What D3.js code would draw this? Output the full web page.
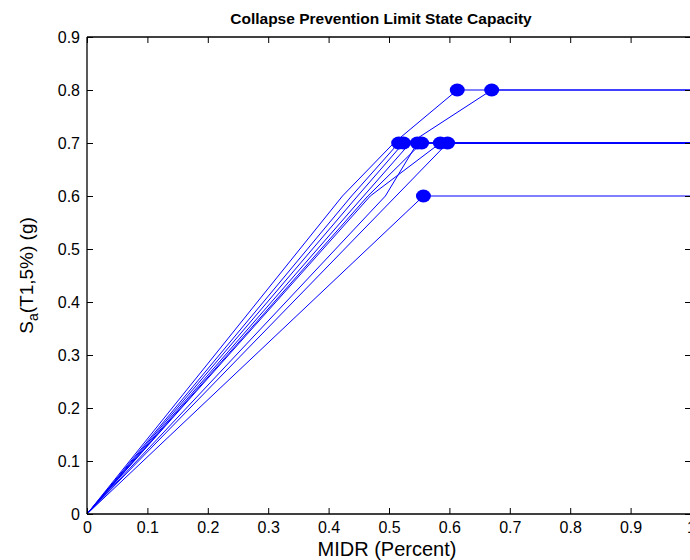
<!DOCTYPE html>
<html>
<head>
<meta charset="utf-8">
<script src="https://cdn.jsdelivr.net/npm/d3@7"></script>
<style>
  html, body { margin: 0; padding: 0; background: #fff; }
  svg { display: block; font-family: Arial, "Liberation Sans", sans-serif; }
</style>
</head>
<body>
<svg id="chart" width="690" height="560"></svg>
<script>
// ---- Data ----
const chartTitle = "Collapse Prevention Limit State Capacity";
const xLabel = "MIDR (Percent)";
const xTicks = [0, 0.1, 0.2, 0.3, 0.4, 0.5, 0.6, 0.7, 0.8, 0.9, 1];
const yTicks = [0, 0.1, 0.2, 0.3, 0.4, 0.5, 0.6, 0.7, 0.8, 0.9];

// IDA curves: MIDR (x) and Sa (y) per record, last point = collapse capacity
const curve1MIDR = [0, 0.423, 0.508, 0.613];
const curve1Sa   = [0, 0.6, 0.7, 0.8];
const curve2MIDR = [0, 0.458, 0.535, 0.670];
const curve2Sa   = [0, 0.6, 0.7, 0.8];
const curve3MIDR = [0, 0.438, 0.516];
const curve3Sa   = [0, 0.6, 0.7];
const curve4MIDR = [0, 0.448, 0.524];
const curve4Sa   = [0, 0.6, 0.7];
const curve5MIDR = [0, 0.494, 0.547];
const curve5Sa   = [0, 0.6, 0.7];
const curve6MIDR = [0, 0.465, 0.554];
const curve6Sa   = [0, 0.6, 0.7];
const curve7MIDR = [0, 0.469, 0.585];
const curve7Sa   = [0, 0.6, 0.7];
const curve8MIDR = [0, 0.597];
const curve8Sa   = [0, 0.7];
const curve9MIDR = [0, 0.557];
const curve9Sa   = [0, 0.6];
const flatEndMIDR = 1.0; // capacity line continues flat to the right edge

const curves = [
  [curve1MIDR, curve1Sa], [curve2MIDR, curve2Sa], [curve3MIDR, curve3Sa],
  [curve4MIDR, curve4Sa], [curve5MIDR, curve5Sa], [curve6MIDR, curve6Sa],
  [curve7MIDR, curve7Sa], [curve8MIDR, curve8Sa], [curve9MIDR, curve9Sa]
].map(([xs, ys]) => xs.map((v, i) => ({x: v, y: ys[i]})));

// ---- Layout ----
const svg = d3.select("#chart");
const mLeft = 87, mRight = 691, mTop = 37, mBottom = 514;
const x = d3.scaleLinear().domain([0, 1]).range([mLeft, mRight]);
const y = d3.scaleLinear().domain([0, 0.9]).range([mBottom, mTop]);
const blue = "#0000ff";

const plot = svg.append("g");

// Lines
const line = d3.line().x(d => x(d.x)).y(d => y(d.y));
curves.forEach(c => {
  const last = c[c.length - 1];
  const pts = c.concat([{x: flatEndMIDR, y: last.y}]);
  plot.append("path")
    .attr("d", line(pts))
    .attr("fill", "none")
    .attr("stroke", blue)
    .attr("stroke-width", 1);
});

// Collapse markers
curves.forEach(c => {
  const last = c[c.length - 1];
  plot.append("ellipse")
    .attr("cx", x(last.x)).attr("cy", y(last.y))
    .attr("rx", 7.5).attr("ry", 6.5)
    .attr("fill", blue);
});

// Axes
const axisColor = "#000";
const tickLen = 6;
const fmt = d => d === 0 ? "0" : (d === 1 ? "1" : d3.format(".1f")(d));

const xAxisB = svg.append("g").attr("transform", `translate(0,${mBottom})`)
  .call(d3.axisBottom(x).tickValues(xTicks).tickSize(-tickLen).tickPadding(8).tickFormat(fmt));
const xAxisT = svg.append("g").attr("transform", `translate(0,${mTop})`)
  .call(d3.axisTop(x).tickValues(xTicks).tickSize(-tickLen).tickFormat(""));
const yAxisL = svg.append("g").attr("transform", `translate(${mLeft},0)`)
  .call(d3.axisLeft(y).tickValues(yTicks).tickSize(-tickLen).tickPadding(7).tickFormat(fmt));
const yAxisR = svg.append("g").attr("transform", `translate(${mRight},0)`)
  .call(d3.axisRight(y).tickValues(yTicks).tickSize(-tickLen).tickFormat(""));

[xAxisB, xAxisT, yAxisL, yAxisR].forEach(g => {
  g.select(".domain").attr("stroke", axisColor).attr("stroke-width", 1.3);
  g.selectAll(".tick line").attr("stroke", axisColor).attr("stroke-width", 1);
  g.selectAll(".tick text").attr("fill", "#000").attr("font-size", 16)
    .attr("font-family", "Arial, 'Liberation Sans', sans-serif");
});
[xAxisB, xAxisT].forEach(g => g.select(".domain").attr("d", `M${mLeft},0H${mRight}`));
[yAxisL, yAxisR].forEach(g => g.select(".domain").attr("d", `M0,${mTop}V${mBottom}`));

// Title
svg.append("text")
  .attr("x", 381).attr("y", 24)
  .attr("text-anchor", "middle")
  .attr("font-size", 15.5).attr("font-weight", "bold")
  .text(chartTitle);

// X label
svg.append("text")
  .attr("x", 387).attr("y", 556)
  .attr("text-anchor", "middle")
  .attr("font-size", 20)
  .text(xLabel);

// Y label with subscript
const yl = svg.append("text")
  .attr("transform", `translate(33,${(mTop + mBottom) / 2}) rotate(-90)`)
  .attr("text-anchor", "middle")
  .attr("font-size", 19);
yl.append("tspan").text("S");
yl.append("tspan").attr("dy", 5).attr("font-size", 14).text("a");
yl.append("tspan").attr("dy", -5).text("(T1,5%) (g)");
</script>
</body>
</html>
